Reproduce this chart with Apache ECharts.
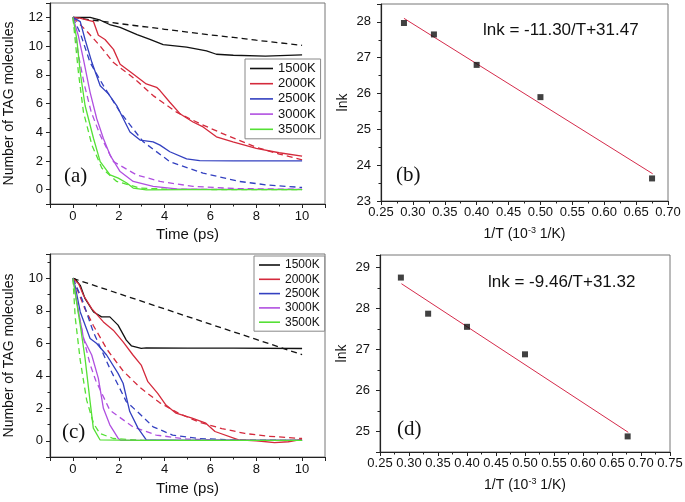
<!DOCTYPE html>
<html><head><meta charset="utf-8">
<script src="https://cdn.jsdelivr.net/npm/echarts/dist/echarts.min.js"></script>
<style>html,body{margin:0;padding:0;background:#fff}#c{width:685px;height:502px}</style>
</head><body><div id="c"></div>
<script>
// ---------- Panel (a): 12 TAG molecules ----------
var aBlackT = [0, 0.75, 1.2, 1.6, 2.06, 2.8, 3.36, 3.94, 4.96, 5.83, 6.26, 7, 8.4, 10];
var aBlackN = [12, 12, 11.8, 11.5, 11.3, 10.8, 10.46, 10.1, 9.93, 9.66, 9.43, 9.36, 9.3, 9.38];
var aBlackFitT = [0, 1, 2, 3, 4, 5, 6, 7, 8, 9, 10];
var aBlackFitN = [12, 11.78, 11.57, 11.37, 11.17, 10.97, 10.78, 10.6, 10.41, 10.23, 10.05];
var aRedT = [0, 0.3, 0.9, 1.11, 1.4, 1.77, 2.06, 2.63, 3.2, 3.65, 3.8, 4.23, 4.67, 5.24, 5.68, 6.26, 6.98, 8, 9, 10];
var aRedN = [12, 11.95, 11.7, 10.75, 10.46, 9.77, 8.74, 8.05, 7.36, 7.13, 6.9, 6.09, 5.29, 4.71, 4.37, 3.68, 3.33, 2.87, 2.57, 2.34];
var aRedFitT = [0, 0.61, 1.19, 1.77, 2.63, 3.5, 4.52, 5.53, 6.7, 8, 9, 10];
var aRedFitN = [12, 11.03, 10.0, 8.85, 7.8, 6.55, 5.4, 4.6, 3.79, 2.95, 2.48, 2.07];
var aBlueT = [0, 0.32, 0.53, 0.83, 1.19, 1.55, 1.91, 2.2, 2.49, 2.93, 3.5, 3.8, 4.23, 4.96, 5.53, 7, 8.5, 10];
var aBlueN = [12, 11.7, 10.46, 8.85, 7.24, 6.67, 5.86, 4.94, 4.02, 3.45, 3.33, 3.1, 2.64, 2.14, 2.02, 2.0, 2.0, 2.0];
var aBlueFitT = [0, 0.32, 0.75, 1.33, 2.06, 3.07, 4.23, 5.68, 7.27, 8.5, 10];
var aBlueFitN = [12, 10.9, 8.85, 7.24, 5.4, 3.33, 1.95, 1.15, 0.57, 0.32, 0.15];
var aPurpleT = [0, 0.24, 0.46, 0.75, 1.04, 1.33, 1.62, 2.06, 2.63, 3.5, 4.52, 6, 8, 10];
var aPurpleN = [12, 10.7, 9.08, 6.78, 4.94, 3.56, 2.41, 1.26, 0.57, 0.23, 0.05, 0.02, 0.02, 0.02];
var aPurpleFitT = [0, 0.25, 0.5, 0.8, 1.19, 1.77, 2.78, 3.8, 5.24, 7, 10];
var aPurpleFitN = [12, 9.3, 7.3, 5.4, 3.79, 1.95, 1.03, 0.57, 0.23, 0.08, 0.02];
var aGreenT = [0, 0.17, 0.32, 0.53, 0.9, 1.19, 1.62, 1.98, 2.35, 2.63, 3.2, 5, 7, 10];
var aGreenN = [12, 10.46, 8.16, 5.86, 3.56, 1.95, 1.03, 0.8, 0.46, 0.11, -0.02, 0, 0, 0];
var aGreenFitT = [0, 0.24, 0.46, 0.83, 1.26, 1.91, 2.93, 4, 6, 10];
var aGreenFitN = [12, 8.16, 5.4, 3.1, 1.5, 0.57, 0.11, 0.04, 0.01, 0];

// ---------- Panel (c): 10 TAG molecules ----------
var cBlackT = [0, 0.1, 0.32, 0.53, 0.9, 1.25, 1.61, 1.97, 2.33, 2.55, 2.98, 3.2, 5, 7, 10];
var cBlackN = [10, 9.95, 9.57, 8.75, 7.93, 7.63, 7.63, 7.12, 6.2, 5.85, 5.69, 5.72, 5.7, 5.7, 5.68];
var cBlackFitT = [0, 2, 4, 6, 8, 10];
var cBlackFitN = [10, 9.06, 8.12, 7.18, 6.24, 5.3];
var cRedT = [0, 0.25, 0.46, 0.82, 1.33, 1.76, 2.19, 2.62, 2.98, 3.27, 3.7, 4.06, 4.5, 5.2, 5.8, 6.2, 7.23, 8.0, 8.8, 9.4, 10];
var cRedN = [10, 9.67, 8.96, 8.14, 7.32, 6.81, 6.09, 5.28, 4.66, 3.64, 2.92, 2.2, 1.7, 1.39, 1.08, 0.57, 0.06, 0.0, -0.12, -0.06, 0.08];
var cRedFitT = [0, 0.5, 0.89, 1.5, 2.19, 2.91, 3.78, 4.6, 5.5, 6.5, 7.5, 8.5, 10];
var cRedFitN = [10, 8.2, 7.1, 5.6, 4.3, 3.3, 2.35, 1.7, 1.15, 0.75, 0.45, 0.28, 0.14];
var cBlueT = [0, 0.1, 0.32, 0.75, 1.04, 1.47, 1.97, 2.19, 2.48, 2.84, 3.2, 5, 7, 10];
var cBlueN = [10, 9.5, 7.93, 6.3, 5.99, 5.28, 4.15, 3.54, 1.8, 0.78, 0.06, 0.02, 0.02, 0.02];
var cBlueFitT = [0, 0.39, 0.89, 1.61, 2.33, 2.9, 3.5, 4.35, 5.5, 7, 10];
var cBlueFitN = [10, 8.75, 6.7, 4.46, 2.41, 1.68, 0.86, 0.35, 0.14, 0.05, 0.02];
var cPurpleT = [0, 0.1, 0.25, 0.46, 0.82, 1.11, 1.33, 1.61, 1.97, 2.1, 4, 7, 10];
var cPurpleN = [10, 9.2, 7.9, 6.3, 5.28, 3.84, 2.0, 0.98, 0.16, 0.02, 0.02, 0.02, 0.02];
var cPurpleFitT = [0, 0.25, 0.5, 0.75, 1.0, 1.61, 2.62, 3.63, 5, 7, 10];
var cPurpleFitN = [10, 7.8, 6.1, 4.7, 3.7, 1.88, 0.86, 0.35, 0.1, 0.03, 0.02];
var cGreenT = [0, 0.32, 0.53, 0.75, 0.89, 1.18, 3, 6, 10];
var cGreenN = [10, 7.12, 5.07, 2.41, 0.78, 0.06, 0.02, 0.02, 0.02];
var cGreenFitT = [0, 0.1, 0.32, 0.6, 0.9, 1.18, 1.76, 3, 10];
var cGreenFitN = [10, 7.6, 4.95, 2.5, 1.06, 0.45, 0.14, 0.03, 0.02];

// ---------- Panel (b) and (d): Arrhenius ----------
var bInvT = [0.286, 0.333, 0.400, 0.500, 0.675];
var bLnk = [27.97, 27.65, 26.8, 25.9, 23.63];
var bFitX = [0.286, 0.676];
var bFitY = [28.1, 23.76];
var dInvT = [0.286, 0.333, 0.400, 0.500, 0.677];
var dLnk = [28.75, 27.87, 27.55, 26.88, 24.88];
var dFitX = [0.287, 0.678];
var dFitY = [28.6, 24.98];

var tempNames = ['1500K', '2000K', '2500K', '3000K', '3500K'];
var bEquation = 'lnk = -11.30/T+31.47';
var dEquation = 'lnk = -9.46/T+31.32';

// ---------- build ----------
var colors = ['#111111', '#d42a3c', '#3340c0', '#b050e0', '#55e035'];
function zip(a, b) { return a.map(function (v, i) { return [v, b[i]]; }); }
function ln(name, ax, t, n, color, dashed) {
  return { type: 'line', name: name, xAxisIndex: ax, yAxisIndex: ax, data: zip(t, n),
    symbol: 'none', silent: true, animation: false, z: dashed ? 2 : 3, clip: true,
    lineStyle: { color: color, width: 1.3, type: dashed ? [6, 4] : 'solid' }, itemStyle: { color: color } };
}
var FONT = '"Liberation Sans", Arial, sans-serif';
function xAx(idx, min, max, opts) {
  var o = { type: 'value', gridIndex: idx, min: min, max: max, splitLine: { show: false },
    axisLine: { onZero: false, lineStyle: { color: '#222', width: 1.2 } },
    axisTick: { inside: false, length: 4, lineStyle: { color: '#222' } },
    minorTick: { show: true, splitNumber: 2, length: 2.5, lineStyle: { color: '#222' } },
    axisLabel: { fontSize: 13, color: '#111', margin: 6, fontFamily: FONT },
    nameLocation: 'middle', nameMoveOverlap: false,
    nameTextStyle: { fontSize: 15, color: '#111', fontFamily: FONT } };
  for (var k in opts) o[k] = opts[k];
  return o;
}
function yAx(idx, min, max, opts) {
  var o = xAx(idx, min, max, {});
  o.axisLabel = { fontSize: 13, color: '#111', margin: 7, fontFamily: FONT };
  o.nameRotate = 90;
  o.nameTextStyle = { fontSize: 14, color: '#111', fontFamily: FONT };
  for (var k in opts) o[k] = opts[k];
  return o;
}
function evenLabel(lo, hi) { return function (v) { return (v >= lo - 1e-9 && v <= hi + 1e-9 && Math.abs(v % 2) < 1e-9) ? String(v) : ''; }; }
function intLabel(lo, hi) { return function (v) { return (v >= lo - 1e-9 && v <= hi + 1e-9 && Math.abs(v - Math.round(v)) < 1e-9) ? String(Math.round(v)) : ''; }; }

var series = [];
var aT = [aBlackT, aRedT, aBlueT, aPurpleT, aGreenT], aN = [aBlackN, aRedN, aBlueN, aPurpleN, aGreenN];
var aFT = [aBlackFitT, aRedFitT, aBlueFitT, aPurpleFitT, aGreenFitT], aFN = [aBlackFitN, aRedFitN, aBlueFitN, aPurpleFitN, aGreenFitN];
var cT = [cBlackT, cRedT, cBlueT, cPurpleT, cGreenT], cN = [cBlackN, cRedN, cBlueN, cPurpleN, cGreenN];
var cFT = [cBlackFitT, cRedFitT, cBlueFitT, cPurpleFitT, cGreenFitT], cFN = [cBlackFitN, cRedFitN, cBlueFitN, cPurpleFitN, cGreenFitN];
for (var i = 0; i < 5; i++) {
  series.push(ln(tempNames[i] + ' fit a', 0, aFT[i], aFN[i], colors[i], true));
  series.push(ln(tempNames[i], 0, aT[i], aN[i], colors[i], false));
  series.push(ln(tempNames[i] + ' fit c', 2, cFT[i], cFN[i], colors[i], true));
  series.push(ln(tempNames[i] + ' c', 2, cT[i], cN[i], colors[i], false));
}
series.push({ type: 'line', name: 'fit b', xAxisIndex: 1, yAxisIndex: 1, data: zip(bFitX, bFitY), symbol: 'none', silent: true,
  lineStyle: { color: '#d52b4b', width: 1 }, z: 2 });
series.push({ type: 'scatter', name: 'lnk b', xAxisIndex: 1, yAxisIndex: 1, data: zip(bInvT, bLnk), symbol: 'rect', symbolSize: 6,
  itemStyle: { color: '#111' }, silent: true, z: 3 });
series.push({ type: 'line', name: 'fit d', xAxisIndex: 3, yAxisIndex: 3, data: zip(dFitX, dFitY), symbol: 'none', silent: true,
  lineStyle: { color: '#d52b4b', width: 1 }, z: 2 });
series.push({ type: 'scatter', name: 'lnk d', xAxisIndex: 3, yAxisIndex: 3, data: zip(dInvT, dLnk), symbol: 'rect', symbolSize: 6,
  itemStyle: { color: '#111' }, silent: true, z: 3 });

var gridBase = { show: true, borderColor: '#777', borderWidth: 1, backgroundColor: 'transparent', outerBoundsMode: 'none', containLabel: false };
function grid(l, t, w, h) { var g = { left: l, top: t, width: w, height: h }; for (var k in gridBase) g[k] = gridBase[k]; return g; }
var invTName = '1/T (10{sup|-3} 1/K)';
var supRich = { sup: { fontSize: 9, fontFamily: FONT, color: '#111', padding: [0, 0, 8, 0] } };

var option = {
  animation: false,
  backgroundColor: '#fff',
  textStyle: { fontFamily: FONT },
  grid: [grid(50, 3, 275, 201), grid(381, 4, 287, 197), grid(50, 254, 275, 203), grid(380, 255, 290, 197)],
  xAxis: [
    xAx(0, -1, 11, { splitNumber: 6, name: 'Time (ps)', nameGap: 23, axisLabel: { fontSize: 13, color: '#111', margin: 6, fontFamily: FONT, formatter: evenLabel(0, 10) } }),
    xAx(1, 0.25, 0.70, { interval: 0.05, name: invTName, nameGap: 25,
      nameTextStyle: { fontSize: 14, color: '#111', fontFamily: FONT, rich: supRich },
      axisLabel: { fontSize: 13, color: '#111', margin: 5, fontFamily: FONT, formatter: function (v) { return v.toFixed(2); } } }),
    xAx(2, -1, 11, { splitNumber: 6, name: 'Time (ps)', nameGap: 24, axisLabel: { fontSize: 13, color: '#111', margin: 6, fontFamily: FONT, formatter: evenLabel(0, 10) } }),
    xAx(3, 0.25, 0.75, { interval: 0.05, name: invTName, nameGap: 25,
      nameTextStyle: { fontSize: 14, color: '#111', fontFamily: FONT, rich: supRich },
      axisLabel: { fontSize: 13, color: '#111', margin: 5, fontFamily: FONT, formatter: function (v) { return v.toFixed(2); } } })
  ],
  yAxis: [
    yAx(0, -1, 13, { splitNumber: 7, name: 'Number of TAG molecules', nameGap: 34, axisLabel: { fontSize: 13, color: '#111', margin: 7, fontFamily: FONT, formatter: evenLabel(0, 12) } }),
    yAx(1, 23, 28.5, { interval: 1, name: 'lnk', nameGap: 31, axisLabel: { fontSize: 13, color: '#111', margin: 10, fontFamily: FONT, formatter: intLabel(23, 28) } }),
    yAx(2, -1, 11.5, { splitNumber: 6, name: 'Number of TAG molecules', nameGap: 34, axisLabel: { fontSize: 13, color: '#111', margin: 7, fontFamily: FONT, formatter: evenLabel(0, 10) } }),
    yAx(3, 24.5, 29.3, { splitNumber: 5, name: 'lnk', nameGap: 31, axisLabel: { fontSize: 13, color: '#111', margin: 10, fontFamily: FONT, formatter: intLabel(25, 29) } })
  ],
  legend: [
    { left: 245, top: 59, orient: 'vertical', padding: [3, 5, 3, 5], itemGap: 2.2, itemWidth: 23, itemHeight: 1.6, icon: 'rect',
      borderColor: '#888', borderWidth: 1, borderRadius: 0, backgroundColor: '#fff', selectedMode: false,
      textStyle: { fontSize: 13, color: '#111', fontFamily: FONT }, data: tempNames },
    { left: 254, top: 256, orient: 'vertical', padding: [3, 5, 3, 5], itemGap: 2.3, itemWidth: 21, itemHeight: 1.6, icon: 'rect',
      borderColor: '#888', borderWidth: 1, borderRadius: 0, backgroundColor: '#fff', selectedMode: false,
      textStyle: { fontSize: 12, color: '#111', fontFamily: FONT }, data: tempNames }
  ],
  graphic: [
    { type: 'text', left: 64, top: 166, style: { text: '(a)', font: '21px "Liberation Serif", "Times New Roman", serif', fill: '#111' } },
    { type: 'text', left: 396, top: 165, style: { text: '(b)', font: '21px "Liberation Serif", "Times New Roman", serif', fill: '#111' } },
    { type: 'text', left: 62, top: 422, style: { text: '(c)', font: '21px "Liberation Serif", "Times New Roman", serif', fill: '#111' } },
    { type: 'text', left: 397, top: 419, style: { text: '(d)', font: '21px "Liberation Serif", "Times New Roman", serif', fill: '#111' } },
    { type: 'text', left: 483, top: 22, style: { text: bEquation, font: '17px "Liberation Sans", Arial, sans-serif', fill: '#111' } },
    { type: 'text', left: 488, top: 274, style: { text: dEquation, font: '17px "Liberation Sans", Arial, sans-serif', fill: '#111' } }
  ],
  series: series
};
var chart = echarts.init(document.getElementById('c'), null, { renderer: 'canvas' });
chart.setOption(option);
</script></body></html>
